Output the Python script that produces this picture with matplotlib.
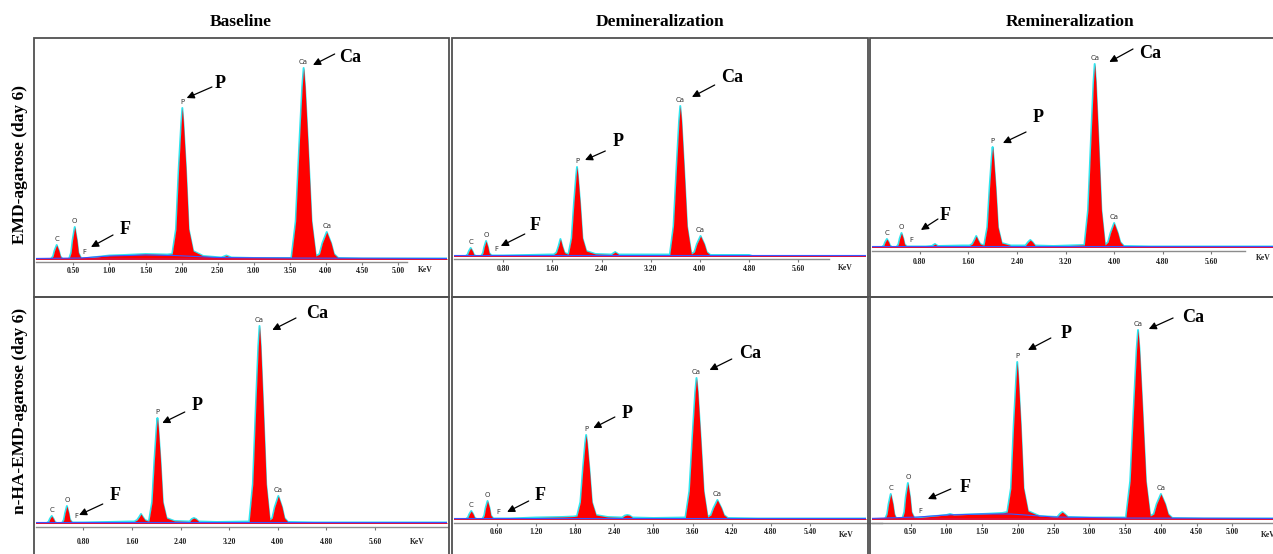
import numpy as np
import matplotlib.pyplot as plt
from matplotlib.patches import Rectangle

# headings
col_titles = ['Baseline', 'Demineralization', 'Remineralization']
row_titles = ['EMD-agarose (day 6)', 'n-HA-EMD-agarose (day 6)']

# EDS spectra: energy (keV) and counts (arb. units)
# top row: EMD-agarose
kev_1 = [0.00, 0.19, 0.22, 0.24, 0.27, 0.30, 0.32, 0.35,
         0.44, 0.47, 0.49, 0.52, 0.55, 0.57, 0.61,
         0.70, 1.00, 1.20, 1.50, 1.80,
         1.87, 1.922, 1.96, 1.995, 2.01, 2.025, 2.06, 2.098, 2.16,
         2.30, 2.55, 2.62, 2.69, 3.00, 3.52,
         3.58, 3.63, 3.67, 3.69, 3.71, 3.75, 3.80, 3.86,
         3.91, 3.95, 4.01, 4.07, 4.11, 4.17,
         4.50, 5.80]
cts_1 = [0, 0, 2.8, 8.4, 14, 8.4, 2.8, 0,
         0, 6.4, 19, 32, 19, 6.4, 0.5,
         1, 3.5, 4, 5, 4.5,
         5, 30, 91, 136, 151, 136, 91, 30, 8,
         3, 1.5, 3.5, 1.5, 1, 1,
         38, 115, 172, 191, 172, 115, 38, 3,
         5, 16, 27, 16, 5, 1,
         0.5, 0.5]

kev_2 = [0.00, 0.19, 0.22, 0.24, 0.27, 0.30, 0.32, 0.35,
         0.44, 0.47, 0.49, 0.52, 0.55, 0.57, 0.61,
         0.80, 1.20, 1.55,
         1.62, 1.665, 1.70, 1.73, 1.76, 1.795, 1.84,
         1.86, 1.912, 1.95, 1.985, 2.00, 2.015, 2.05, 2.088, 2.15,
         2.30, 2.56, 2.62, 2.68, 3.00, 3.51,
         3.57, 3.62, 3.66, 3.68, 3.70, 3.74, 3.79, 3.86,
         3.91, 3.95, 4.01, 4.07, 4.11, 4.17,
         4.80, 4.85, 7.00]
cts_2 = [0, 0, 1.6, 4.8, 8, 4.8, 1.6, 0,
         0, 3, 9, 15, 9, 3, 0.5,
         0.5, 1, 1.5,
         1.5, 3.4, 10, 17, 10, 3.4, 2,
         2, 18, 53, 80, 89, 80, 53, 18, 5,
         2, 1.5, 4, 1.5, 1.5, 1.5,
         30, 90, 135, 150, 135, 90, 30, 2,
         4, 12, 20, 12, 4, 1,
         1, 0, 0]

kev_3 = [0.00, 0.18, 0.21, 0.23, 0.26, 0.29, 0.31, 0.34,
         0.42, 0.45, 0.47, 0.50, 0.53, 0.55, 0.59,
         0.90, 1.00, 1.05, 1.10, 1.50,
         1.62, 1.665, 1.70, 1.73, 1.76, 1.795, 1.84,
         1.86, 1.912, 1.95, 1.985, 2.00, 2.015, 2.05, 2.088, 2.15,
         2.30, 2.54, 2.585, 2.62, 2.655, 2.70, 3.00, 3.51,
         3.57, 3.62, 3.66, 3.68, 3.70, 3.74, 3.79, 3.85,
         3.90, 3.94, 4.00, 4.06, 4.10, 4.16,
         4.60, 7.00]
cts_3 = [0, 0, 1.6, 4.8, 8, 4.8, 1.6, 0,
         0, 2.8, 8.4, 14, 8.4, 2.8, 0.5,
         0.5, 1, 3, 1, 1.5,
         1.5, 3, 7, 11, 7, 3, 2,
         2, 20, 60, 90, 100, 90, 60, 20, 4,
         1.5, 1.5, 5, 7, 5, 1.5, 1, 2,
         37, 110, 165, 183, 165, 110, 37, 2,
         5, 14, 24, 14, 5, 1,
         0.5, 0.5]

# bottom row: n-HA-EMD-agarose
kev_4 = [0.00, 0.20, 0.23, 0.25, 0.28, 0.31, 0.33, 0.36,
         0.45, 0.48, 0.50, 0.53, 0.56, 0.58, 0.62,
         0.80, 1.20, 1.57,
         1.64, 1.685, 1.72, 1.75, 1.78, 1.815, 1.86,
         1.88, 1.932, 1.97, 2.005, 2.02, 2.035, 2.07, 2.108, 2.17,
         2.30, 2.55, 2.585, 2.62, 2.655, 2.70, 3.00, 3.53,
         3.59, 3.64, 3.68, 3.70, 3.72, 3.76, 3.81, 3.87,
         3.91, 3.95, 4.01, 4.07, 4.11, 4.17,
         4.60, 7.00]
cts_4 = [0, 0, 1.4, 4.2, 7, 4.2, 1.4, 0,
         0, 3.4, 10, 17, 10, 3.4, 0.5,
         0.5, 1, 1.5,
         1.5, 3, 6, 9, 6, 3, 2,
         2, 21, 63, 95, 105, 95, 63, 21, 5,
         2, 1.5, 4, 5, 4, 1.5, 1, 1.5,
         39, 118, 177, 197, 177, 118, 39, 3,
         5, 16, 27, 16, 5, 1,
         0.5, 0.5]

kev_5 = [0.00, 0.13, 0.16, 0.18, 0.21, 0.24, 0.26, 0.29,
         0.38, 0.41, 0.43, 0.46, 0.49, 0.51, 0.55,
         0.80, 1.20, 1.60, 1.78,
         1.83, 1.882, 1.92, 1.955, 1.97, 1.985, 2.02, 2.058, 2.12,
         2.30, 2.52, 2.565, 2.60, 2.635, 2.68, 3.00, 3.49,
         3.55, 3.60, 3.64, 3.66, 3.68, 3.72, 3.77, 3.83,
         3.88, 3.92, 3.98, 4.04, 4.08, 4.14,
         4.60, 7.00]
cts_5 = [0, 0, 1.6, 4.8, 8, 4.8, 1.6, 0,
         0, 3.6, 11, 18, 11, 3.6, 0.5,
         0.5, 1.5, 2, 2.5,
         3, 17, 50, 76, 84, 76, 50, 17, 4,
         2, 1.5, 3.5, 4, 3.5, 1.5, 1, 1.5,
         28, 85, 127, 141, 127, 85, 28, 2,
         4, 11, 19, 11, 4, 1,
         0.5, 0.5]

kev_6 = [0.00, 0.14, 0.17, 0.19, 0.22, 0.25, 0.27, 0.30,
         0.38, 0.41, 0.43, 0.46, 0.49, 0.51, 0.55,
         0.70, 1.00, 1.05, 1.10, 1.50, 1.78,
         1.85, 1.902, 1.94, 1.975, 1.99, 2.005, 2.04, 2.078, 2.14,
         2.30, 2.55, 2.585, 2.62, 2.655, 2.70, 3.00, 3.51,
         3.57, 3.62, 3.66, 3.68, 3.70, 3.74, 3.79, 3.85,
         3.90, 3.94, 4.00, 4.06, 4.10, 4.16,
         4.60, 6.00]
cts_6 = [0, 0, 5, 15, 25, 15, 5, 0,
         0, 7, 22, 36, 22, 7, 1,
         2, 4, 5, 4, 5, 6,
         7, 31, 94, 141, 157, 141, 94, 31, 8,
         3, 2, 5, 7, 5, 2, 1.5, 1.5,
         38, 113, 170, 189, 170, 113, 38, 3,
         5, 15, 25, 15, 5, 1,
         0.5, 0.5]

# fitted background (blue line)
bg_kev_1 = [-0.1, 0.6, 1.0, 1.5, 1.9, 2.5, 3.5, 5.8]
bg_cts_1 = [0.5, 1, 3, 4, 3.5, 1.5, 1, 0.5]
bg_kev_6 = [-0.1, 0.6, 1.0, 1.5, 1.9, 2.5, 3.5, 6.0]
bg_cts_6 = [0.5, 2, 4, 5, 5, 2, 1, 0.5]
bg_kev_flat = [-0.2, 7.0]
bg_cts_flat = [1, 1]

# element line markers drawn over the peaks
line_names = ['C', 'O', 'F', 'P', 'Ca', 'Ca']
line_kev_1 = [0.27, 0.52, 0.66, 2.01, 3.69, 4.01]
line_kev_2 = [0.27, 0.52, 0.68, 2.00, 3.68, 4.01]
line_kev_3 = [0.26, 0.50, 0.67, 2.00, 3.68, 4.00]
line_kev_4 = [0.28, 0.53, 0.69, 2.02, 3.70, 4.01]
line_kev_5 = [0.21, 0.46, 0.62, 1.97, 3.66, 3.98]
line_kev_6 = [0.22, 0.46, 0.63, 1.99, 3.68, 4.00]

# axis ticks (keV)
ticks_a = [0.50, 1.00, 1.50, 2.00, 2.50, 3.00, 3.50, 4.00, 4.50, 5.00]
ticks_b = [0.80, 1.60, 2.40, 3.20, 4.00, 4.80, 5.60]
ticks_c = [0.60, 1.20, 1.80, 2.40, 3.00, 3.60, 4.20, 4.80, 5.40]

W, H = 1273, 554

def fx(x):
    return x / W

def fy(y):
    return 1 - y / H

# layout of the panels in pixels: frame, keV origin, px per keV, baseline, axis line
panels = [
    dict(frame=(34, 38, 449, 297), x0=37.2, s=72.2, base=259, axis=262, axis_end=5.12,
         kev=kev_1, cts=cts_1, bgk=bg_kev_1, bgc=bg_cts_1, lines=line_kev_1, ticks=ticks_a,
         tdist=9, keV_lab=(5.37, 8),
         notes=[('P', (2.53, 176), (2.42, 172), (2.07, 161)),
                ('Ca', (4.33, 202), (4.12, 205), (3.82, 194)),
                ('F', (1.22, 30), (1.05, 24), (0.745, 12))]),
    dict(frame=(452, 38, 868, 297), x0=454.1, s=61.46, base=256, axis=259, axis_end=6.10,
         kev=kev_2, cts=cts_2, bgk=bg_kev_flat, bgc=bg_cts_flat, lines=line_kev_2, ticks=ticks_b,
         tdist=10, keV_lab=(6.36, 9),
         notes=[('P', (2.67, 114), (2.46, 105), (2.13, 96)),
                ('Ca', (4.52, 179), (4.24, 171), (3.87, 159)),
                ('F', (1.32, 31), (1.15, 22), (0.76, 10))]),
    dict(frame=(870, 38, 1290, 297), x0=871.1, s=60.76, base=247, axis=251, axis_end=6.15,
         kev=kev_3, cts=cts_3, bgk=bg_kev_flat, bgc=bg_cts_flat, lines=line_kev_3, ticks=ticks_b,
         tdist=11, keV_lab=(6.45, 7),
         notes=[('P', (2.75, 129), (2.55, 115), (2.17, 104)),
                ('Ca', (4.59, 194), (4.31, 198), (3.92, 185)),
                ('F', (1.22, 32), (1.10, 28), (0.82, 17))]),
    dict(frame=(34, 297, 449, 570), x0=34.7, s=60.76, base=523, axis=527, axis_end=6.80,
         kev=kev_4, cts=cts_4, bgk=bg_kev_flat, bgc=bg_cts_flat, lines=line_kev_4, ticks=ticks_b,
         tdist=15, keV_lab=(6.29, 15),
         notes=[('P', (2.67, 118), (2.47, 111), (2.10, 100)),
                ('Ca', (4.65, 210), (4.30, 205), (3.91, 193)),
                ('F', (1.32, 28), (1.12, 19), (0.73, 8))]),
    dict(frame=(452, 297, 868, 570), x0=457.5, s=65.3, base=519, axis=523, axis_end=6.50,
         kev=kev_5, cts=cts_5, bgk=bg_kev_flat, bgc=bg_cts_flat, lines=line_kev_5, ticks=ticks_c,
         tdist=9, keV_lab=(5.96, 12),
         notes=[('P', (2.60, 106), (2.41, 102), (2.08, 91)),
                ('Ca', (4.48, 166), (4.20, 160), (3.86, 149)),
                ('F', (1.26, 24), (1.09, 18), (0.76, 7))]),
    dict(frame=(870, 297, 1290, 570), x0=875, s=71.48, base=519, axis=523, axis_end=6.00,
         kev=kev_6, cts=cts_6, bgk=bg_kev_6, bgc=bg_cts_6, lines=line_kev_6, ticks=ticks_a,
         tdist=9, keV_lab=(5.50, 12),
         notes=[('P', (2.67, 186), (2.46, 181), (2.14, 169)),
                ('Ca', (4.45, 202), (4.17, 201), (3.83, 190)),
                ('F', (1.26, 31), (1.06, 30), (0.74, 20))]),
]

serif = 'Liberation Serif'

fig = plt.figure(figsize=(W / 100, H / 100), dpi=100)
fig.patch.set_facecolor('white')

for p in panels:
    l, t, r, b = p['frame']
    fig.add_artist(Rectangle((fx(l), fy(b)), (r - l) / W, (b - t) / H, transform=fig.transFigure,
                             fill=False, edgecolor='#505050', lw=1.3, zorder=10))

    left_px = l + 2
    right_px = min(r - 2, W)
    top_px = t + 2
    ax = fig.add_axes([fx(left_px), fy(p['axis']), (right_px - left_px) / W, (p['axis'] - top_px) / H])
    ax.patch.set_alpha(0)
    xlo = (left_px - p['x0']) / p['s']
    xhi = (right_px - p['x0']) / p['s']
    drop = p['axis'] - p['base']
    ax.set_xlim(xlo, xhi)
    ax.set_ylim(-drop, p['base'] - top_px)

    # spectrum: cyan outline, red fill, background fit
    ax.plot(p['kev'], p['cts'], color='#2fe4ee', lw=1.4, zorder=2, solid_joinstyle='round')
    ax.fill_between(p['kev'], 0, p['cts'], color='#ff0000', lw=0, zorder=3)
    ax.plot([xlo, xhi], [0, 0], color='#e0103a', lw=1.4, zorder=3)
    ax.plot(p['bgk'], p['bgc'], color='#3a55ff', lw=0.8, zorder=4)

    # small element labels above the peaks
    for name, e in zip(line_names, p['lines']):
        ax.annotate(name, (e, np.interp(e, p['kev'], p['cts'])), xytext=(0, 2.5),
                    textcoords='offset points', ha='center', va='bottom',
                    fontsize=5, color='#333333', zorder=5)

    # big annotations with arrows
    for name, txt, tail, head in p['notes']:
        ax.annotate('', xy=head, xytext=tail, zorder=6, annotation_clip=False,
                    arrowprops=dict(arrowstyle='-|>', color='black', lw=0.9,
                                    mutation_scale=11, shrinkA=0, shrinkB=0))
        ax.text(txt[0], txt[1], name, fontsize=13, fontweight='bold', family=serif,
                ha='center', va='center', zorder=6)

    # energy axis
    for side in ['top', 'left', 'right']:
        ax.spines[side].set_visible(False)
    ax.spines['bottom'].set_color('#8c8c8c')
    ax.spines['bottom'].set_linewidth(1.0)
    ax.spines['bottom'].set_bounds(xlo, p['axis_end'])
    ax.set_yticks([])
    ax.set_xticks(p['ticks'])
    ax.set_xticklabels(['%.2f' % v for v in p['ticks']])
    ax.tick_params(axis='x', direction='out', length=2.5, width=0.8, color='#777777',
                   pad=max(0.5, (p['tdist'] - 7.5) * 0.72), labelsize=5.5, labelcolor='#222222')
    for lab in ax.get_xticklabels():
        lab.set_fontfamily(serif)
        lab.set_fontweight('bold')
    kx, kd = p['keV_lab']
    ax.text(kx, -drop - kd, 'KeV', fontsize=5.5, fontweight='bold', family=serif,
            ha='center', va='center', clip_on=False, color='#222222')

# column and row headings
for name, xc in zip(col_titles, [241, 660, 1070]):
    fig.text(fx(xc), fy(22), name, fontsize=12.5, fontweight='bold', family=serif,
             ha='center', va='center')
for name, yc in zip(row_titles, [164, 411]):
    fig.text(fx(20), fy(yc), name, fontsize=12.5, fontweight='bold', family=serif,
             ha='center', va='center', rotation=90)

fig.savefig('out.png', dpi=100)
